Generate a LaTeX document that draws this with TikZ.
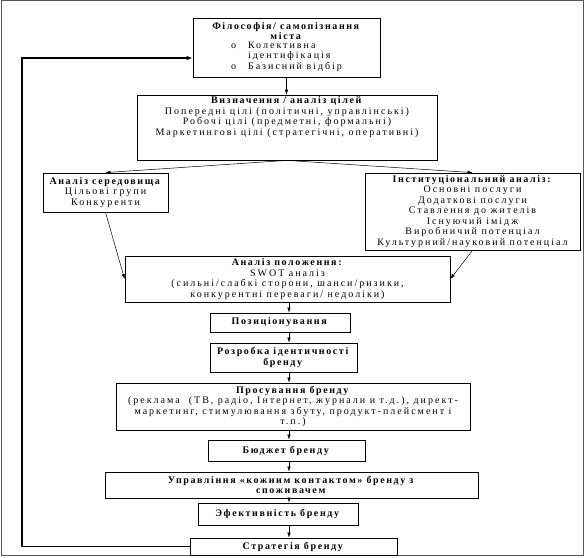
\documentclass[tikz,border=0pt]{standalone}
\usepackage{fontspec}
\setmainfont{Liberation Serif}[UprightFeatures={LetterSpace=20},BoldFeatures={LetterSpace=16}]
\usetikzlibrary{arrows.meta}
\begin{document}
\begin{tikzpicture}[x=1pt, y=-1pt,
    box/.style={draw, line width=0.8pt, align=center, inner sep=1pt, font=\fontsize{10}{10.5}\selectfont},
    arr/.style={-{Latex[length=5pt,width=3.5pt]}, line width=0.5pt}]

    \useasboundingbox (0,0) rectangle (585,557);
    % Outer frame
    \draw[line width=1pt, black!65] (1,0.5) rectangle (583.5,555.5);

    % Philosophy of the city
    \node[box, minimum width=187pt, minimum height=59pt] (phil) at (286.5,47.5)
        {\textbf{Філософія/ самопізнання}\\ \textbf{міста}\\
         \begin{tabular}{@{}l@{\hspace{12pt}}l@{}}
         o & Колективна\\ & ідентифікація\\ o & Базисний відбір
         \end{tabular}};

    % Goals
    \node[box, minimum width=300pt, minimum height=65pt] (goals) at (287,127.5)
        {\textbf{Визначення / аналіз цілей}\\
         Попередні цілі (політичні, управлінські)\\
         Робочі цілі (предметні, формальні)\\
         Маркетингові цілі (стратегічні, оперативні)\\[12pt]\mbox{}};

    % Environment and institutional analysis
    \node[box, minimum width=125pt, minimum height=39pt] (env) at (105.5,192.5)
        {\textbf{Аналіз середовища}\\ Цільові групи\\ Конкуренти};
    \node[box, minimum width=215pt, minimum height=77pt] (inst) at (472.5,211.5)
        {\textbf{Інституціональний аналіз:}\\ Основні послуги\\ Додаткові послуги\\
         Ставлення до жителів\\ Існуючий імідж\\ Виробничий потенціал\\
         Культурний/науковий потенціал};

    % Position analysis
    \node[box, minimum width=325pt, minimum height=46pt] (swot) at (287.5,279)
        {\textbf{Аналіз положення:}\\ SWOT аналіз\\
         (сильні/слабкі сторони, шанси/ризики,\\ конкурентні переваги/ недоліки)};

    % Brand chain
    \node[box, minimum width=140pt, minimum height=19pt] (pos) at (280,322.5)
        {\textbf{Позиціонування}};
    \node[box, minimum width=147pt, minimum height=29pt] (ident) at (283.5,357.5)
        {\textbf{Розробка ідентичності}\\ \textbf{бренду}};
    \node[box, minimum width=354pt, minimum height=47pt] (promo) at (293,406.5)
        {\textbf{Просування бренду}\\
         (реклама \ (ТВ, радіо, Інтернет, журнали и т.д.), директ-\\
         маркетинг, стимулювання збуту, продукт-плейсмент і\\ т.п.)};
    \node[box, minimum width=157pt, minimum height=21pt] (budget) at (286.5,450.5)
        {\textbf{Бюджет бренду}};
    \node[box, minimum width=373pt, minimum height=26pt] (contact) at (291.5,485)
        {\textbf{Управління «кожним контактом» бренду з}\\ \textbf{споживачем}};
    \node[box, minimum width=160pt, minimum height=22pt] (eff) at (278,514)
        {\textbf{Эфективність бренду}};
    \node[box, minimum width=207pt, minimum height=17pt] (strat) at (293.5,546.5)
        {\textbf{Стратегія бренду}};

    % Connectors
    \coordinate (axis) at (289,0);
    \draw[arr] (phil.south) -- (phil.south |- goals.north);
    \draw[arr] (goals.south) -- (env.north);
    \draw[arr] (goals.south) -- (inst.north);
    \draw[arr] (env.south) -- (swot.west);
    \draw[arr] (inst.south) -- (swot.east);
    \foreach \a/\b in {swot/pos, pos/ident, ident/promo, promo/budget,
                       budget/contact, contact/eff, eff/strat}
        \draw[arr] (\a.south -| axis) -- (\b.north -| axis);

    % Feedback loop
    \coordinate (loop) at (22,58);
    \draw[line width=1.6pt, -{Latex[length=6pt,width=4.5pt]}]
        (strat.west) -- (strat.west -| loop) -- (loop) -- (loop -| phil.west);
\end{tikzpicture}
\end{document}
